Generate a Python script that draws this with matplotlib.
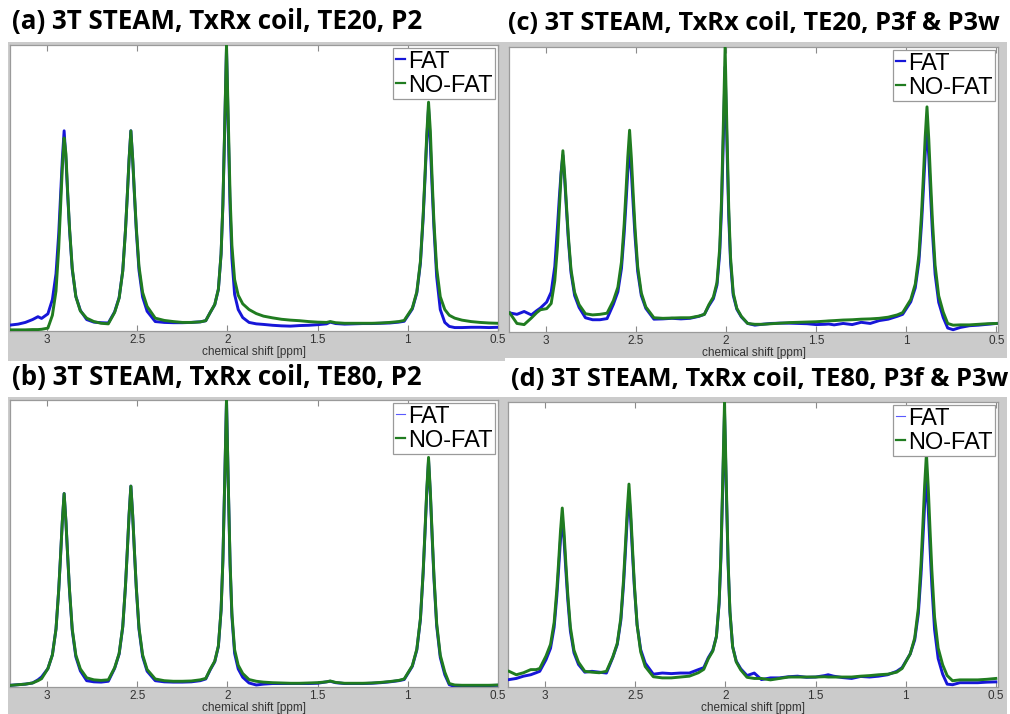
import matplotlib
matplotlib.use("Agg")
import matplotlib.pyplot as plt
from matplotlib.patches import Rectangle

# ---------------- data ----------------
ppm = [
    3.20, 3.16, 3.12, 3.08, 3.05, 3.03,
    2.995, 2.97, 2.95, 2.935, 2.925, 2.915, 2.905, 2.895, 2.885, 2.875, 2.86, 2.84, 2.815,
    2.78, 2.74, 2.70, 2.66,
    2.625, 2.60, 2.58, 2.565, 2.555, 2.545, 2.535, 2.525, 2.515, 2.505, 2.49, 2.47, 2.445,
    2.40, 2.35, 2.30, 2.25, 2.20, 2.15, 2.12,
    2.095, 2.07, 2.05, 2.035, 2.025, 2.015, 2.005, 1.995, 1.985, 1.975, 1.96, 1.94, 1.915,
    1.88, 1.84, 1.80, 1.75, 1.70, 1.65, 1.60, 1.55, 1.50, 1.45,
    1.43, 1.40, 1.35, 1.30, 1.25, 1.20, 1.15, 1.10, 1.05, 1.02,
    0.975, 0.95, 0.93, 0.915, 0.905, 0.895, 0.885, 0.875, 0.865, 0.855, 0.84, 0.82, 0.795,
    0.77, 0.74, 0.70, 0.65, 0.60, 0.55, 0.50,
]

a_fat = [
    0.021, 0.024, 0.030, 0.040, 0.050, 0.044,
    0.060, 0.110, 0.200, 0.340, 0.470, 0.600, 0.700, 0.600, 0.474, 0.354, 0.215, 0.121, 0.072,
    0.040, 0.031, 0.029, 0.028,
    0.067, 0.117, 0.211, 0.352, 0.472, 0.600, 0.700, 0.600, 0.473, 0.353, 0.212, 0.119, 0.069,
    0.033, 0.030, 0.029, 0.029, 0.030, 0.032, 0.036,
    0.065, 0.092, 0.145, 0.268, 0.439, 0.705, 0.990, 0.700, 0.429, 0.254, 0.128, 0.075, 0.047,
    0.030, 0.025, 0.023, 0.020, 0.018, 0.017, 0.019, 0.020, 0.022, 0.025,
    0.031, 0.026, 0.024, 0.025, 0.026, 0.026, 0.027, 0.028, 0.031, 0.034,
    0.077, 0.133, 0.237, 0.393, 0.527, 0.668, 0.780, 0.650, 0.500, 0.360, 0.190, 0.075, 0.030,
    0.016, 0.012, 0.012, 0.013, 0.013, 0.012, 0.013,
]
a_nofat = [
    0.004, 0.004, 0.004, 0.005, 0.005, 0.006,
    0.010, 0.055, 0.140, 0.290, 0.430, 0.570, 0.675, 0.620, 0.480, 0.360, 0.220, 0.120, 0.070,
    0.045, 0.033, 0.027, 0.025,
    0.065, 0.115, 0.209, 0.351, 0.472, 0.599, 0.700, 0.603, 0.479, 0.362, 0.226, 0.135, 0.086,
    0.045, 0.037, 0.033, 0.030, 0.030, 0.032, 0.036,
    0.065, 0.093, 0.146, 0.270, 0.443, 0.712, 1.000, 0.740, 0.470, 0.300, 0.180, 0.125, 0.095,
    0.075, 0.061, 0.052, 0.046, 0.041, 0.038, 0.036, 0.033, 0.031, 0.030,
    0.033, 0.029, 0.027, 0.027, 0.027, 0.027, 0.028, 0.030, 0.033, 0.037,
    0.080, 0.137, 0.244, 0.404, 0.541, 0.686, 0.800, 0.700, 0.530, 0.380, 0.220, 0.120, 0.075,
    0.055, 0.045, 0.038, 0.033, 0.030, 0.028, 0.027,
]
b_fat = [
    0.006, 0.008, 0.010, 0.014, 0.025, 0.035,
    0.064, 0.112, 0.202, 0.338, 0.454, 0.577, 0.674, 0.576, 0.452, 0.334, 0.197, 0.105, 0.056,
    0.022, 0.018, 0.017, 0.020,
    0.065, 0.115, 0.209, 0.351, 0.472, 0.599, 0.700, 0.598, 0.468, 0.345, 0.201, 0.106, 0.055,
    0.022, 0.018, 0.017, 0.017, 0.018, 0.022, 0.028,
    0.060, 0.088, 0.141, 0.267, 0.440, 0.711, 1.000, 0.702, 0.425, 0.246, 0.117, 0.063, 0.034,
    0.014, 0.007, 0.010, 0.012, 0.012, 0.012, 0.012, 0.012, 0.013, 0.018,
    0.020, 0.015, 0.012, 0.012, 0.012, 0.013, 0.015, 0.018, 0.022, 0.026,
    0.072, 0.129, 0.235, 0.395, 0.532, 0.676, 0.790, 0.672, 0.521, 0.379, 0.213, 0.103, 0.043,
    0.008, 0.002, 0.002, 0.003, 0.004, 0.005, 0.006,
]
b_nofat = [
    0.006, 0.008, 0.010, 0.014, 0.022, 0.029,
    0.064, 0.112, 0.202, 0.338, 0.454, 0.577, 0.674, 0.577, 0.454, 0.338, 0.202, 0.111, 0.063,
    0.032, 0.025, 0.023, 0.025,
    0.067, 0.117, 0.211, 0.352, 0.472, 0.600, 0.700, 0.599, 0.470, 0.348, 0.207, 0.112, 0.061,
    0.028, 0.022, 0.020, 0.020, 0.021, 0.025, 0.030,
    0.062, 0.090, 0.143, 0.268, 0.441, 0.711, 1.000, 0.707, 0.433, 0.257, 0.130, 0.076, 0.047,
    0.026, 0.020, 0.017, 0.015, 0.014, 0.013, 0.013, 0.014, 0.015, 0.018,
    0.021, 0.016, 0.013, 0.013, 0.013, 0.014, 0.016, 0.019, 0.023, 0.028,
    0.074, 0.132, 0.239, 0.401, 0.539, 0.685, 0.800, 0.681, 0.531, 0.388, 0.222, 0.111, 0.052,
    0.012, 0.007, 0.006, 0.006, 0.006, 0.006, 0.007,
]
c_fat = [
    0.067, 0.062, 0.072, 0.060, 0.075, 0.084,
    0.105, 0.140, 0.230, 0.370, 0.470, 0.560, 0.620, 0.535, 0.428, 0.326, 0.208, 0.128, 0.086,
    0.050, 0.043, 0.043, 0.047,
    0.097, 0.141, 0.223, 0.346, 0.451, 0.562, 0.650, 0.560, 0.446, 0.338, 0.212, 0.128, 0.083,
    0.045, 0.046, 0.048, 0.046, 0.048, 0.055, 0.062,
    0.092, 0.117, 0.165, 0.276, 0.431, 0.672, 0.930, 0.660, 0.408, 0.246, 0.129, 0.080, 0.053,
    0.030, 0.024, 0.027, 0.030, 0.031, 0.031, 0.030, 0.029, 0.026, 0.027,
    0.028, 0.025, 0.030, 0.026, 0.034, 0.030, 0.040, 0.045, 0.055, 0.062,
    0.106, 0.155, 0.246, 0.382, 0.499, 0.623, 0.720, 0.614, 0.479, 0.352, 0.203, 0.104, 0.051,
    0.014, 0.008, 0.016, 0.022, 0.024, 0.027, 0.030,
]
c_nofat = [
    0.067, 0.030, 0.026, 0.049, 0.068, 0.078,
    0.082, 0.100, 0.180, 0.300, 0.430, 0.550, 0.636, 0.550, 0.442, 0.339, 0.219, 0.139, 0.096,
    0.064, 0.060, 0.062, 0.066,
    0.110, 0.157, 0.246, 0.379, 0.493, 0.613, 0.708, 0.610, 0.485, 0.367, 0.229, 0.137, 0.088,
    0.050, 0.048, 0.049, 0.050, 0.050, 0.056, 0.062,
    0.096, 0.123, 0.174, 0.295, 0.462, 0.722, 1.000, 0.709, 0.437, 0.263, 0.137, 0.083, 0.055,
    0.030, 0.027, 0.027, 0.029, 0.031, 0.033, 0.034, 0.035, 0.036, 0.038,
    0.039, 0.040, 0.042, 0.043, 0.045, 0.046, 0.048, 0.052, 0.060, 0.068,
    0.114, 0.168, 0.268, 0.418, 0.547, 0.683, 0.790, 0.676, 0.531, 0.394, 0.234, 0.127, 0.070,
    0.030, 0.024, 0.025, 0.025, 0.027, 0.029, 0.030,
]
d_fat = [
    0.026, 0.030, 0.038, 0.043, 0.050, 0.055,
    0.096, 0.136, 0.210, 0.320, 0.415, 0.516, 0.595, 0.513, 0.409, 0.311, 0.196, 0.120, 0.079,
    0.052, 0.055, 0.052, 0.049,
    0.103, 0.149, 0.234, 0.361, 0.471, 0.586, 0.677, 0.583, 0.463, 0.350, 0.219, 0.131, 0.084,
    0.045, 0.049, 0.047, 0.049, 0.049, 0.061, 0.068,
    0.103, 0.129, 0.177, 0.292, 0.452, 0.700, 0.965, 0.688, 0.429, 0.262, 0.142, 0.091, 0.064,
    0.040, 0.049, 0.026, 0.032, 0.032, 0.036, 0.038, 0.034, 0.035, 0.040,
    0.043, 0.038, 0.033, 0.030, 0.037, 0.035, 0.038, 0.043, 0.055, 0.068,
    0.116, 0.165, 0.257, 0.395, 0.513, 0.638, 0.736, 0.626, 0.487, 0.356, 0.202, 0.100, 0.045,
    0.010, 0.008, 0.015, 0.015, 0.015, 0.017, 0.018,
]
d_nofat = [
    0.055, 0.043, 0.050, 0.061, 0.061, 0.065,
    0.109, 0.150, 0.227, 0.343, 0.441, 0.546, 0.628, 0.542, 0.433, 0.330, 0.210, 0.129, 0.087,
    0.055, 0.052, 0.050, 0.055,
    0.105, 0.153, 0.243, 0.378, 0.494, 0.616, 0.712, 0.610, 0.482, 0.360, 0.218, 0.123, 0.072,
    0.036, 0.032, 0.032, 0.035, 0.038, 0.050, 0.062,
    0.099, 0.126, 0.177, 0.297, 0.464, 0.723, 1.000, 0.711, 0.440, 0.267, 0.141, 0.088, 0.060,
    0.034, 0.030, 0.030, 0.025, 0.030, 0.035, 0.035, 0.035, 0.035, 0.036,
    0.035, 0.035, 0.035, 0.035, 0.038, 0.040, 0.043, 0.045, 0.052, 0.065,
    0.116, 0.172, 0.276, 0.432, 0.565, 0.707, 0.818, 0.701, 0.552, 0.411, 0.246, 0.137, 0.078,
    0.040, 0.022, 0.025, 0.025, 0.025, 0.027, 0.030,
]

titles = [
    "(a) 3T STEAM, TxRx coil, TE20, P2",
    "(b) 3T STEAM, TxRx coil, TE80, P2",
    "(c) 3T STEAM, TxRx coil, TE20, P3f & P3w",
    "(d) 3T STEAM, TxRx coil, TE80, P3f & P3w",
]
series_labels = ["FAT", "NO-FAT"]
xticks = [3, 2.5, 2, 1.5, 1, 0.5]
xtick_labels = ["3", "2.5", "2", "1.5", "1", "0.5"]
xlabel = "chemical shift [ppm]"

# ---------------- layout ----------------
W, H = 1010, 714
fig = plt.figure(figsize=(W / 100, H / 100), dpi=100)
fig.patch.set_facecolor("white")

GRAY = "#cbcbcb"
BLUE = "#1616d8"
GREEN = "#207c20"
LW = 2.1

def px_rect(x0, y0, x1, y1):
    return [x0 / W, 1 - y1 / H, (x1 - x0) / W, (y1 - y0) / H]

bgs = [(8, 42, 505, 361), (8, 397, 505, 714), (505, 42, 1007, 358), (505, 397, 1007, 714)]
for (x0, y0, x1, y1) in bgs:
    fig.add_artist(Rectangle((x0 / W, 1 - y1 / H), (x1 - x0) / W, (y1 - y0) / H,
                             transform=fig.transFigure, facecolor=GRAY,
                             edgecolor="none", zorder=0))

panels = [
    dict(ax=(10, 45, 498, 331), xlim=(3.205, 0.5), fat=a_fat, nofat=a_nofat,
         title=titles[0], tpos=(12, 22), tw=410, thin=False),
    dict(ax=(10, 400, 498, 687), xlim=(3.205, 0.5), fat=b_fat, nofat=b_nofat,
         title=titles[1], tpos=(12, 378), tw=409, thin=True),
    dict(ax=(509, 47, 998, 332), xlim=(3.204, 0.491), fat=c_fat, nofat=c_nofat,
         title=titles[2], tpos=(508, 23), tw=493, thin=False),
    dict(ax=(508, 402, 998, 687), xlim=(3.206, 0.488), fat=d_fat, nofat=d_nofat,
         title=titles[3], tpos=(511, 379), tw=496, thin=True),
]

renderer = fig.canvas.get_renderer()

for p in panels:
    ax = fig.add_axes(px_rect(*p["ax"]))
    ax.set_facecolor("white")
    ax.set_zorder(2)
    ax.plot(ppm, p["fat"], color=BLUE, lw=LW, label=series_labels[0], zorder=3,
            solid_joinstyle="round")
    ax.plot(ppm, p["nofat"], color=GREEN, lw=LW, label=series_labels[1], zorder=4,
            solid_joinstyle="round")
    ax.set_xlim(*p["xlim"])
    ax.set_ylim(0, 1.0)
    ax.set_yticks([])
    ax.set_xticks(xticks)
    ax.set_xticklabels(xtick_labels, fontsize=8.5, family="Liberation Sans", color="#333333")
    ax.tick_params(axis="x", direction="in", top=True, bottom=True, length=4,
                   width=0.8, color="#8a8a8a", pad=2)
    ax.set_xlabel(xlabel, fontsize=8.5, family="Liberation Sans", color="#333333", labelpad=0)
    for s in ax.spines.values():
        s.set_color("#9a9a9a")
        s.set_linewidth(0.9)

    h1 = plt.Line2D([], [], color=BLUE if not p["thin"] else "#5a5aff",
                    lw=0.8 if p["thin"] else 1.6)
    h2 = plt.Line2D([], [], color=GREEN, lw=1.6)
    leg = ax.legend([h1, h2], series_labels, loc="upper right",
                    prop=dict(family="Liberation Sans", size=17),
                    handlelength=0.4, handletextpad=0.1, borderpad=0.12,
                    labelspacing=0.08, borderaxespad=0.12, frameon=True,
                    fancybox=False, framealpha=1)
    leg.get_frame().set_edgecolor("#9a9a9a")
    leg.get_frame().set_linewidth(0.9)
    leg.set_zorder(10)

    t = fig.text(p["tpos"][0] / W, 1 - p["tpos"][1] / H, p["title"], fontsize=15,
                 fontweight="bold", family="Open Sans", ha="left", va="center", color="black")
    bb = t.get_window_extent(renderer=renderer)
    t.set_fontsize(15 * p["tw"] / bb.width)

fig.savefig("out.png", dpi=100, facecolor="white")
